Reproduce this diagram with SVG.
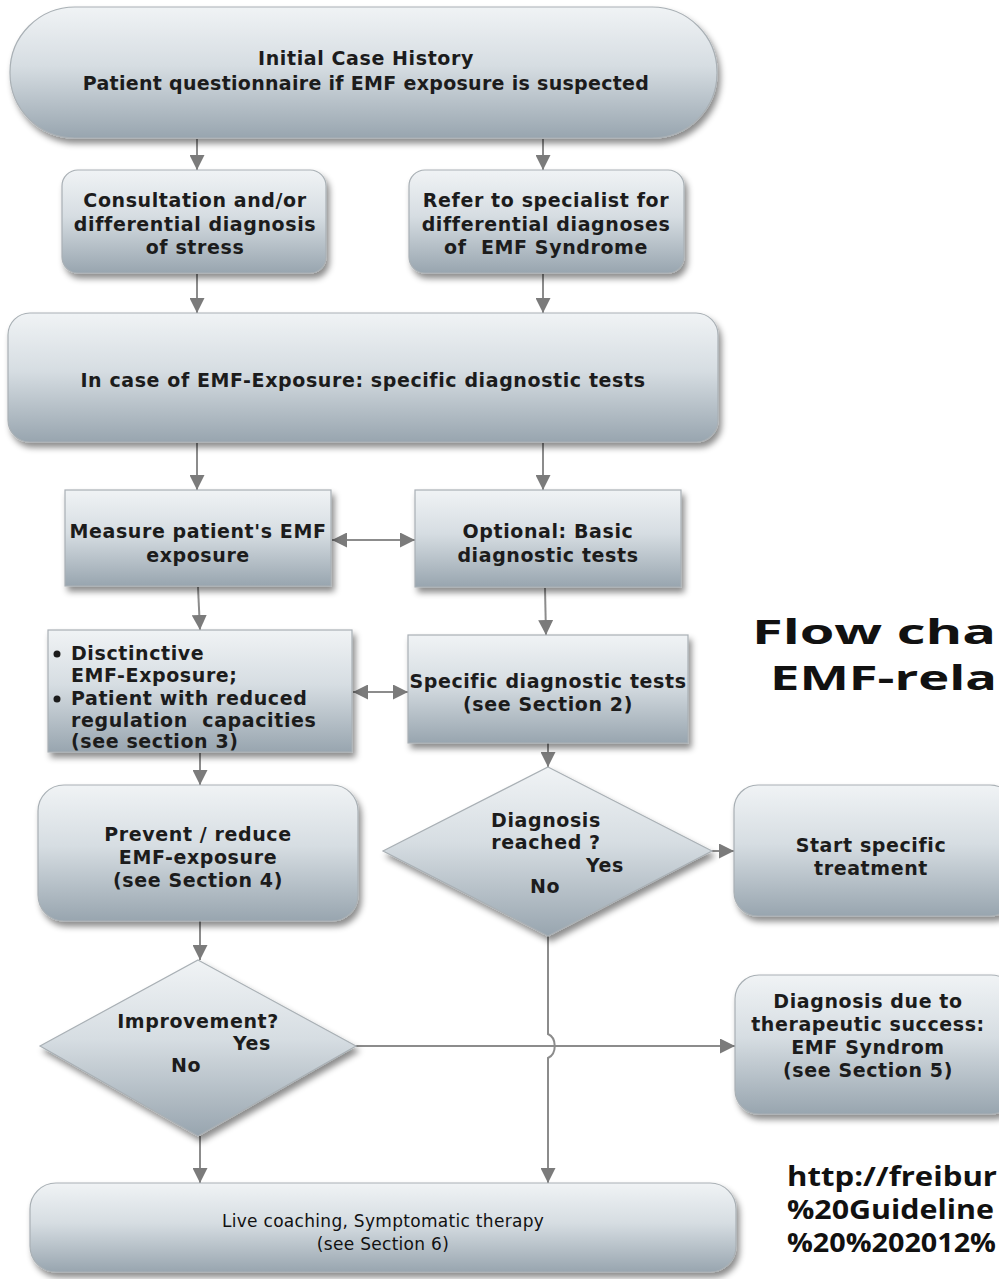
<svg xmlns="http://www.w3.org/2000/svg" width="999" height="1279" viewBox="0 0 999 1279">
<defs>
<linearGradient id="g" x1="0" y1="0" x2="0" y2="1">
<stop offset="0" stop-color="#f0f3f5"/>
<stop offset="0.45" stop-color="#d6dde2"/>
<stop offset="1" stop-color="#98a5af"/>
</linearGradient>
<filter id="sh" x="-10%" y="-10%" width="125%" height="130%">
<feDropShadow dx="3" dy="5" stdDeviation="3" flood-color="#000" flood-opacity="0.45"/>
</filter>
<marker id="ah" viewBox="0 0 10 10" refX="10" refY="5" markerWidth="15" markerHeight="15" markerUnits="userSpaceOnUse" orient="auto-start-reverse">
<path d="M0,0 L10,5 L0,10 z" fill="#7b7b7b"/>
</marker>
<style>
.n{fill:url(#g);stroke:#a9b0b5;stroke-width:1.2;filter:url(#sh)}
.t{font-family:"DejaVu Sans",Verdana,sans-serif;font-weight:bold;font-size:19px;letter-spacing:0.6px;fill:#1c1c1c;text-anchor:middle}
.r{font-weight:normal;font-size:17px;letter-spacing:0.3px;fill:#111}
.tl{text-anchor:start}
.c{fill:none;stroke:#8c8c8c;stroke-width:2}
.a{marker-end:url(#ah)}
.b{marker-start:url(#ah);marker-end:url(#ah)}
.big{font-family:"Open Sans","Liberation Sans",sans-serif;font-weight:bold;fill:#111}
</style>
</defs>
<rect width="999" height="1279" fill="#ffffff"/>

<g id="connectors">
<line class="c a" x1="197" y1="139" x2="197" y2="170"/>
<line class="c a" x1="543" y1="139" x2="543" y2="170"/>
<line class="c a" x1="197" y1="274" x2="197" y2="313"/>
<line class="c a" x1="543" y1="274" x2="543" y2="313"/>
<line class="c a" x1="197" y1="443" x2="197" y2="490"/>
<line class="c a" x1="543" y1="443" x2="543" y2="490"/>
<line class="c b" x1="332" y1="540" x2="415" y2="540"/>
<line class="c a" x1="198" y1="587" x2="200" y2="630"/>
<line class="c a" x1="545" y1="588" x2="546" y2="635"/>
<line class="c b" x1="353" y1="692" x2="408" y2="692"/>
<line class="c a" x1="200" y1="753" x2="200" y2="785"/>
<line class="c a" x1="548" y1="743" x2="548" y2="767"/>
<line class="c a" x1="712" y1="851" x2="734" y2="851"/>
<line class="c a" x1="200" y1="921" x2="200" y2="960"/>
<line class="c a" x1="355" y1="1046" x2="735" y2="1046"/>
<line class="c a" x1="200" y1="1136" x2="200" y2="1183"/>
<path class="c a" d="M548,936 L548,1034 C557,1038 557,1054 548,1058 L548,1183"/>
</g>

<g id="n-initial">
<rect class="n" x="10" y="7" width="707" height="131" rx="65"/>
<text class="t" x="366" y="65">Initial Case History</text>
<text class="t" x="366" y="90" style="letter-spacing:0.3px">Patient questionnaire if EMF exposure is suspected</text>
</g>

<g id="n-consult">
<rect class="n" x="62" y="170" width="264" height="103" rx="16"/>
<text class="t" x="195" y="207">Consultation and/or</text>
<text class="t" x="195" y="231">differential diagnosis</text>
<text class="t" x="195" y="254">of stress</text>
</g>

<g id="n-refer">
<rect class="n" x="409" y="170" width="275" height="103" rx="16"/>
<text class="t" x="546" y="207">Refer to specialist for</text>
<text class="t" x="546" y="231">differential diagnoses</text>
<text class="t" x="546" y="254" xml:space="preserve">of  EMF Syndrome</text>
</g>

<g id="n-incase">
<rect class="n" x="8" y="313" width="710" height="129" rx="22"/>
<text class="t" x="363" y="387">In case of EMF-Exposure: specific diagnostic tests</text>
</g>

<g id="n-measure">
<rect class="n" x="65" y="490" width="266" height="96"/>
<text class="t" x="198" y="538">Measure patient's EMF</text>
<text class="t" x="198" y="562">exposure</text>
</g>

<g id="n-optional">
<rect class="n" x="415" y="490" width="266" height="97"/>
<text class="t" x="548" y="538">Optional: Basic</text>
<text class="t" x="548" y="562">diagnostic tests</text>
</g>

<g id="n-distinctive">
<rect class="n" x="48" y="630" width="304" height="122"/>
<circle cx="57" cy="654" r="3.5" fill="#1c1c1c"/>
<circle cx="57" cy="699" r="3.5" fill="#1c1c1c"/>
<text class="t tl" x="71" y="660">Disctinctive</text>
<text class="t tl" x="71" y="682">EMF-Exposure;</text>
<text class="t tl" x="71" y="705">Patient with reduced</text>
<text class="t tl" x="71" y="727" xml:space="preserve">regulation  capacities</text>
<text class="t tl" x="71" y="748">(see section 3)</text>
</g>

<g id="n-specific">
<rect class="n" x="408" y="635" width="280" height="108"/>
<text class="t" x="548" y="688">Specific diagnostic tests</text>
<text class="t" x="548" y="711">(see Section 2)</text>
</g>

<g id="n-prevent">
<rect class="n" x="38" y="785" width="320" height="136" rx="26"/>
<text class="t" x="198" y="841">Prevent / reduce</text>
<text class="t" x="198" y="864">EMF-exposure</text>
<text class="t" x="198" y="887">(see Section 4)</text>
</g>

<g id="n-diag-reached">
<polygon class="n" points="548,767 712,851 548,936 383,851"/>
<text class="t" x="546" y="827">Diagnosis</text>
<text class="t" x="546" y="849">reached ?</text>
<text class="t" x="605" y="872">Yes</text>
<text class="t" x="545" y="893">No</text>
</g>

<g id="n-start">
<rect class="n" x="734" y="785" width="280" height="131" rx="24"/>
<text class="t" x="871" y="852">Start specific</text>
<text class="t" x="871" y="875">treatment</text>
</g>

<g id="n-improvement">
<polygon class="n" points="198,960 356,1046 198,1136 40,1046"/>
<text class="t" x="198" y="1028">Improvement?</text>
<text class="t" x="252" y="1050">Yes</text>
<text class="t" x="186" y="1072">No</text>
</g>

<g id="n-diag-due">
<rect class="n" x="735" y="975" width="280" height="139" rx="24"/>
<text class="t" x="868" y="1008">Diagnosis due to</text>
<text class="t" x="868" y="1031">therapeutic success:</text>
<text class="t" x="868" y="1054">EMF Syndrom</text>
<text class="t" x="868" y="1077">(see Section 5)</text>
</g>

<g id="n-live">
<rect class="n" x="30" y="1183" width="706" height="89" rx="26"/>
<text class="t r" x="383" y="1227">Live coaching, Symptomatic therapy</text>
<text class="t r" x="383" y="1250">(see Section 6)</text>
</g>

<g id="title">
<text class="big" x="752" y="644" font-size="34" textLength="244" lengthAdjust="spacingAndGlyphs">Flow cha</text>
<text class="big" x="770" y="690" font-size="34" textLength="227" lengthAdjust="spacingAndGlyphs">EMF-rela</text>
</g>
<g id="url">
<text class="big" x="787" y="1186" font-size="26" textLength="210" lengthAdjust="spacingAndGlyphs">http://freibur</text>
<text class="big" x="787" y="1219" font-size="26" textLength="207" lengthAdjust="spacingAndGlyphs">%20Guideline</text>
<text class="big" x="787" y="1252" font-size="26" textLength="209" lengthAdjust="spacingAndGlyphs">%20%202012%</text>
</g>
</svg>
